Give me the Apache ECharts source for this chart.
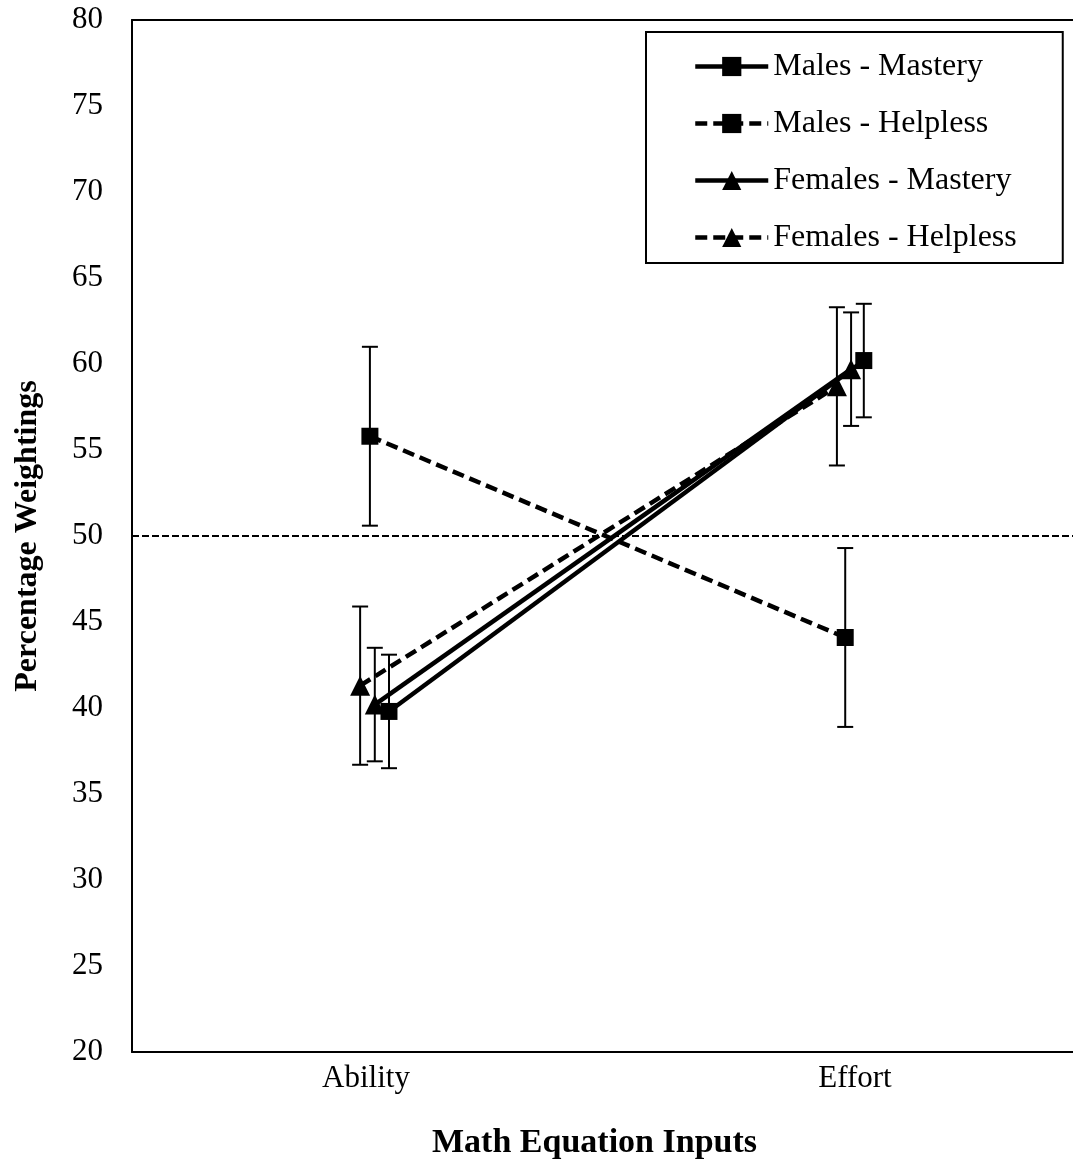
<!DOCTYPE html>
<html>
<head>
<meta charset="utf-8">
<script src="https://cdn.jsdelivr.net/npm/echarts@6/dist/echarts.min.js"></script>
<style>
    html, body { margin: 0; padding: 0; background: #fff; }
    #chart { width: 1073px; height: 1173px; }
</style>
</head>
<body>
<div id="chart"></div>
<script>
    // categories on the x axis (positions 1 and 2 of the value axis)
    const categories = ['Ability', 'Effort'];
    const categoryPos = [1, 2];
    const yTicks = [20, 80, 5]; // min, max, step
    const refLine = 50;

    // means, error half-widths and the small x shifts used in the original
    const malesMastery = [39.8, 60.2];
    const malesMasteryErr = [3.3, 3.3];
    const malesMasteryX = [1.047, 2.018];

    const malesHelpless = [55.8, 44.1];
    const malesHelplessErr = [5.2, 5.2];
    const malesHelplessX = [1.008, 1.980];

    const femalesMastery = [40.2, 59.7];
    const femalesMasteryErr = [3.3, 3.3];
    const femalesMasteryX = [1.018, 1.992];

    const femalesHelpless = [41.3, 58.7];
    const femalesHelplessErr = [4.6, 4.6];
    const femalesHelplessX = [0.988, 1.963];

    const font = 'Liberation Serif';
    const xMin = 0.5215, xMax = 2.4458;

    let groups = [
        {name: 'Males - Mastery', y: malesMastery, err: malesMasteryErr, x: malesMasteryX, symbol: 'rect', size: 17, dash: 'solid'},
        {name: 'Males - Helpless', y: malesHelpless, err: malesHelplessErr, x: malesHelplessX, symbol: 'rect', size: 17, dash: [12, 6]},
        {name: 'Females - Mastery', y: femalesMastery, err: femalesMasteryErr, x: femalesMasteryX, symbol: 'triangle', size: 20, dash: 'solid'},
        {name: 'Females - Helpless', y: femalesHelpless, err: femalesHelplessErr, x: femalesHelplessX, symbol: 'triangle', size: 20, dash: [12, 6]}
    ];

    // 误差线
    let errData = [];
    groups.forEach(g => {
        g.y.forEach((v, i) => {
            errData.push([g.x[i], v - g.err[i], v + g.err[i]]);
        });
    });

    let series = groups.map(g => ({
        name: g.name,
        type: 'line',
        data: g.y.map((v, i) => [g.x[i], v]),
        symbol: g.symbol,
        symbolSize: g.size,
        showSymbol: true,
        z: 3,
        itemStyle: {color: '#000'},
        lineStyle: {color: '#000', width: 4.5, type: g.dash}
    }));

    series.push({
        name: 'err',
        type: 'custom',
        data: errData,
        z: 2,
        renderItem: function (params, api) {
            let top = api.coord([api.value(0), api.value(2)]);
            let bot = api.coord([api.value(0), api.value(1)]);
            let half = 8;
            let style = {stroke: '#000', lineWidth: 2};
            return {
                type: 'group',
                children: [
                    {type: 'line', shape: {x1: top[0], y1: top[1], x2: bot[0], y2: bot[1]}, style: style},
                    {type: 'line', shape: {x1: top[0] - half, y1: top[1], x2: top[0] + half, y2: top[1]}, style: style},
                    {type: 'line', shape: {x1: bot[0] - half, y1: bot[1], x2: bot[0] + half, y2: bot[1]}, style: style}
                ]
            };
        }
    });

    // 50% 参考线
    series[0].markLine = {
        silent: true,
        symbol: ['none', 'none'],
        label: {show: false},
        lineStyle: {color: '#000', width: 2, type: [7, 3]},
        data: [{yAxis: refLine}]
    };

    let option = {
        animation: false,
        backgroundColor: '#fff',
        textStyle: {fontFamily: font, color: '#000'},
        grid: {
            left: 132,
            top: 20,
            right: 0,
            bottom: 121
        },
        legend: {
            data: groups.map(g => g.name),
            orient: 'vertical',
            left: 646,
            top: 32,
            itemWidth: 73,
            itemHeight: 24,
            itemGap: 24,
            padding: [18, 46, 9, 47],
            borderColor: '#000',
            borderWidth: 2,
            backgroundColor: '#fff',
            lineStyle: {width: 4.5},
            textStyle: {fontFamily: font, fontSize: 32, color: '#000', lineHeight: 33}
        },
        xAxis: [{
            type: 'value',
            min: xMin,
            max: xMax,
            splitLine: {show: false},
            axisLine: {show: true, onZero: false, lineStyle: {color: '#000', width: 2}},
            axisTick: {show: false},
            axisLabel: {
                customValues: categoryPos,
                formatter: v => categories[categoryPos.indexOf(v)] || '',
                fontFamily: font,
                fontSize: 31,
                color: '#000',
                margin: 11
            },
            name: 'Math Equation Inputs',
            nameLocation: 'middle',
            nameGap: 74,
            nameTextStyle: {fontFamily: font, fontSize: 34, fontWeight: 'bold', color: '#000', padding: [0, 16, 0, 0]}
        }, {
            // 顶部边框
            type: 'value',
            position: 'top',
            min: xMin,
            max: xMax,
            splitLine: {show: false},
            axisLine: {show: true, onZero: false, lineStyle: {color: '#000', width: 2}},
            axisTick: {show: false},
            axisLabel: {show: false}
        }],
        yAxis: {
            type: 'value',
            min: yTicks[0],
            max: yTicks[1],
            interval: yTicks[2],
            splitLine: {show: false},
            axisLine: {show: true, lineStyle: {color: '#000', width: 2}},
            axisTick: {show: false},
            axisLabel: {fontFamily: font, fontSize: 31, color: '#000', margin: 29},
            name: 'Percentage Weightings',
            nameLocation: 'middle',
            nameRotate: 90,
            nameGap: 88,
            nameTextStyle: {fontFamily: font, fontSize: 32, fontWeight: 'bold', color: '#000'}
        },
        series: series
    };

    let chart = echarts.init(document.getElementById('chart'));
    chart.setOption(option);
</script>
</body>
</html>
